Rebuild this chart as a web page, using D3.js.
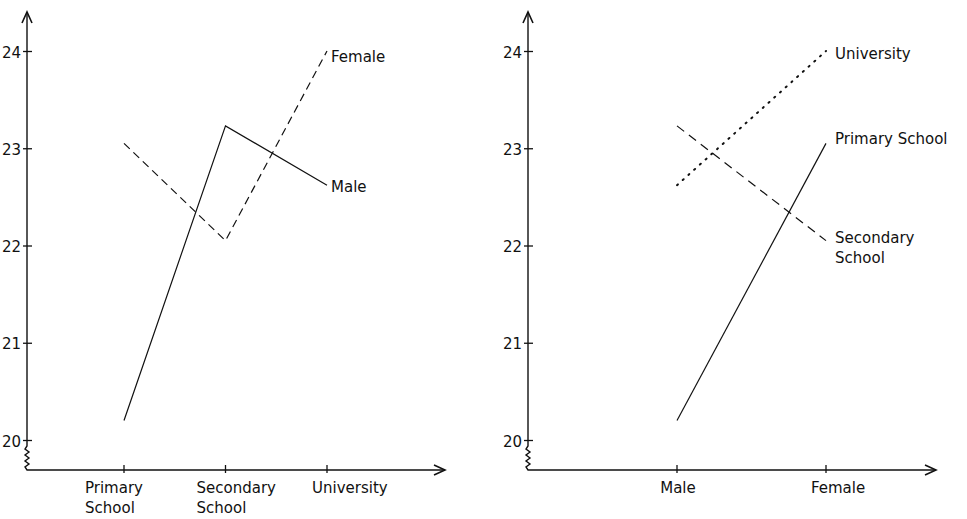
<!DOCTYPE html>
<html>
<head>
<meta charset="utf-8">
<script src="https://cdn.jsdelivr.net/npm/d3@7"></script>
<style>
    body { margin: 0; background: #fff; }
    svg text { font-family: "DejaVu Sans", sans-serif; font-size: 15px; fill: #111; }
</style>
</head>
<body>
<svg id="chart" width="967" height="519"></svg>
<script>
// mean age by education level and sex
const ageTicks = [20, 21, 22, 23, 24];
const educationLevels = ["Primary School", "Secondary School", "University"];
const educationLabels = [["Primary", "School"], ["Secondary", "School"], ["University"]];
const sexes = ["Male", "Female"];
const maleAge = [20.2, 23.23, 22.62];
const femaleAge = [23.05, 22.05, 24.0];

const svg = d3.select("#chart");
const ink = "#111";

function drawFrame(g, x0, xEnd, y) {
    const base = 470;
    const top = 12;
    // y axis with a break squiggle just under 20
    const yTop = y(20) + 6;
    const sq = d3.path();
    sq.moveTo(x0, top);
    sq.lineTo(x0, yTop);
    sq.lineTo(x0 - 2, yTop + 3);
    sq.lineTo(x0 + 2, yTop + 6);
    sq.lineTo(x0 - 2, yTop + 9);
    sq.lineTo(x0 + 2, yTop + 12);
    sq.lineTo(x0 - 2, yTop + 15);
    sq.lineTo(x0 + 2, yTop + 18);
    sq.lineTo(x0 - 2, yTop + 21);
    sq.lineTo(x0, base);
    sq.lineTo(xEnd, base);
    g.append("path").attr("d", sq.toString())
        .attr("fill", "none").attr("stroke", ink).attr("stroke-width", 1.4);
    // arrow heads
    g.append("path").attr("d", `M${x0 - 5},${top + 11}L${x0},${top}L${x0 + 5},${top + 11}`)
        .attr("fill", "none").attr("stroke", ink).attr("stroke-width", 1.6);
    g.append("path").attr("d", `M${xEnd - 11},${base - 5}L${xEnd},${base}L${xEnd - 11},${base + 5}`)
        .attr("fill", "none").attr("stroke", ink).attr("stroke-width", 1.6);

    const axis = g.append("g")
        .attr("transform", `translate(${x0},0)`)
        .call(d3.axisLeft(y).tickValues(ageTicks).tickFormat(d3.format("d")).tickSize(4).tickPadding(2));
    axis.select(".domain").remove();
    axis.selectAll(".tick line").attr("x1", 5).attr("x2", -4).attr("stroke", ink).attr("stroke-width", 1.3);
    axis.selectAll(".tick text").attr("font-size", 15).attr("font-family", "DejaVu Sans, sans-serif")
        .attr("fill", ink).attr("dy", "0.4em");
}

function drawXTicks(g, x, cats, base) {
    g.selectAll(".xt").data(cats).join("line")
        .attr("x1", d => x(d)).attr("x2", d => x(d))
        .attr("y1", base - 5).attr("y2", base + 3)
        .attr("stroke", ink).attr("stroke-width", 1.3);
}

function seriesLine(g, pts, dash) {
    const line = d3.line().x(d => d[0]).y(d => d[1]);
    const p = g.append("path").attr("d", line(pts))
        .attr("fill", "none").attr("stroke", ink).attr("stroke-width", 1.2);
    if (dash) p.attr("stroke-dasharray", dash);
    if (dash === "1.2 6.5") p.attr("stroke-linecap", "round").attr("stroke-width", 2);
    return p;
}

const y = d3.scaleLinear().domain([20, 24]).range([440, 51]);

// ---- left panel: age by education level ----
const left = svg.append("g");
const xL = d3.scalePoint().domain(educationLevels).range([124, 327]);
drawFrame(left, 27, 445, y);
drawXTicks(left, xL, educationLevels, 470);

const labelShift = [-39, -29, -15];
educationLevels.forEach((lvl, i) => {
    const t = left.append("text").attr("x", xL(lvl) + labelShift[i]).attr("y", 493);
    educationLabels[i].forEach((w, j) => {
        t.append("tspan").attr("x", xL(lvl) + labelShift[i]).attr("dy", j === 0 ? 0 : 20).text(w);
    });
});

seriesLine(left, educationLevels.map((d, i) => [xL(d), y(maleAge[i])]), null);
seriesLine(left, educationLevels.map((d, i) => [xL(d), y(femaleAge[i])]), "8 5");

left.append("text").attr("x", xL("University") + 4).attr("y", y(femaleAge[2]) + 11).text("Female");
left.append("text").attr("x", xL("University") + 4).attr("y", y(maleAge[2]) + 7).text("Male");

// ---- right panel: age by sex ----
const right = svg.append("g");
const xR = d3.scalePoint().domain(sexes).range([677, 826]);
drawFrame(right, 528, 936, y);
drawXTicks(right, xR, sexes, 470);

right.selectAll(".sx").data(sexes).join("text")
    .attr("x", (d, i) => xR(d) + (i === 0 ? 1 : 12))
    .attr("y", 493)
    .attr("text-anchor", "middle")
    .text(d => d);

const styles = [null, "9 6", "1.2 6.5"];
educationLevels.forEach((lvl, i) => {
    const vals = [maleAge[i], femaleAge[i]];
    seriesLine(right, sexes.map((s, k) => [xR(s), y(vals[k])]), styles[i]);
});

const lx = xR("Female") + 9;
right.append("text").attr("x", lx).attr("y", y(femaleAge[0]) + 1).text("Primary School");
const sec = right.append("text").attr("x", lx).attr("y", y(femaleAge[1]) + 2);
sec.append("tspan").attr("x", lx).text("Secondary");
sec.append("tspan").attr("x", lx).attr("dy", 20).text("School");
right.append("text").attr("x", lx).attr("y", y(femaleAge[2]) + 8).text("University");
</script>
</body>
</html>
